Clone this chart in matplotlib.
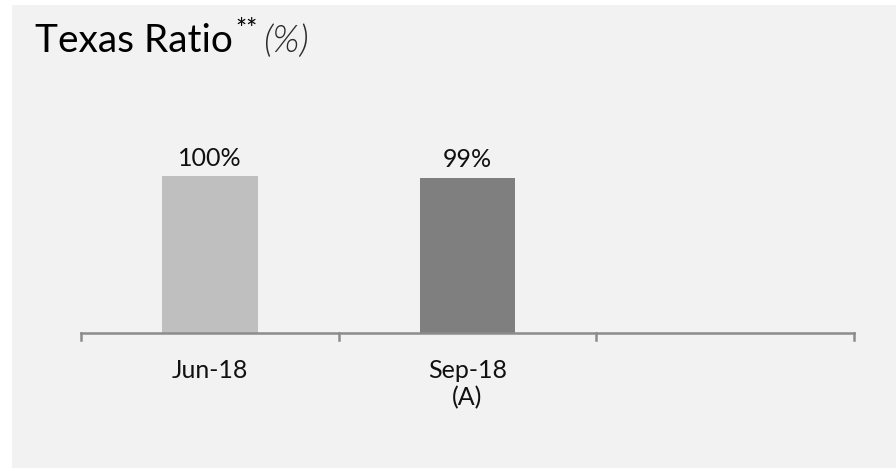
import matplotlib.pyplot as plt
from matplotlib.patches import Rectangle

categories = ['Jun-18', 'Sep-18\n(A)', '']
values = [100, 99, None]
labels = ['100%', '99%', '']
colors = ['#bfbfbf', '#7f7f7f', '#7f7f7f']

plt.rcParams['font.family'] = ['Lato', 'DejaVu Sans']

fig = plt.figure(figsize=(8.96, 4.68), dpi=100)
fig.patch.set_facecolor('white')
fig.patches.append(Rectangle((12 / 896, 0), 1, 1 - 5 / 468, transform=fig.transFigure,
                             facecolor='#f2f2f2', edgecolor='none', zorder=-1))

# axes: x from 81 to 854 px, baseline at y=333 px
left, right = 81 / 896, 854 / 896
bottom = 1 - 333 / 468
top = 1 - 100 / 468
ax = fig.add_axes([left, bottom, right - left, top - bottom])
ax.set_facecolor('none')

xs = list(range(len(categories)))
for x, v, c, lab in zip(xs, values, colors, labels):
    if v is None:
        continue
    ax.bar(x, v, width=0.37, color=c, zorder=2)
    ax.annotate(lab, (x, v), xytext=(0, 4.5), textcoords='offset points',
                ha='center', va='bottom', fontsize=18, color='#111111')

ax.set_xlim(-0.5, 2.5)
ax.set_ylim(0, 148.4)
ax.set_xticks(xs)
ax.set_xticklabels(categories, fontsize=18, color='#111111', linespacing=1.2)
ax.tick_params(axis='x', length=0, pad=19)
ax.set_yticks([])
# category boundary ticks
for b in [-0.5, 0.5, 1.5, 2.5]:
    ax.plot([b, b], [0, -4.5], color='#8c8c8c', lw=1.8, clip_on=False, zorder=1)
for s in ['top', 'right', 'left']:
    ax.spines[s].set_visible(False)
ax.spines['bottom'].set_color('#8c8c8c')
ax.spines['bottom'].set_linewidth(1.8)

fig.text(35 / 896, 1 - 52 / 468, 'Texas Ratio', fontsize=28, color='#000000',
         ha='left', va='baseline')
fig.text(235 / 896, 1 - 38 / 468, '**', fontsize=19, color='#000000', ha='left', va='baseline')
fig.text(263 / 896, 1 - 52 / 468, '(%)', fontsize=27, color='#2b2b2b', style='italic',
         fontweight=300, ha='left', va='baseline')

fig.savefig('out.png', dpi=100)
